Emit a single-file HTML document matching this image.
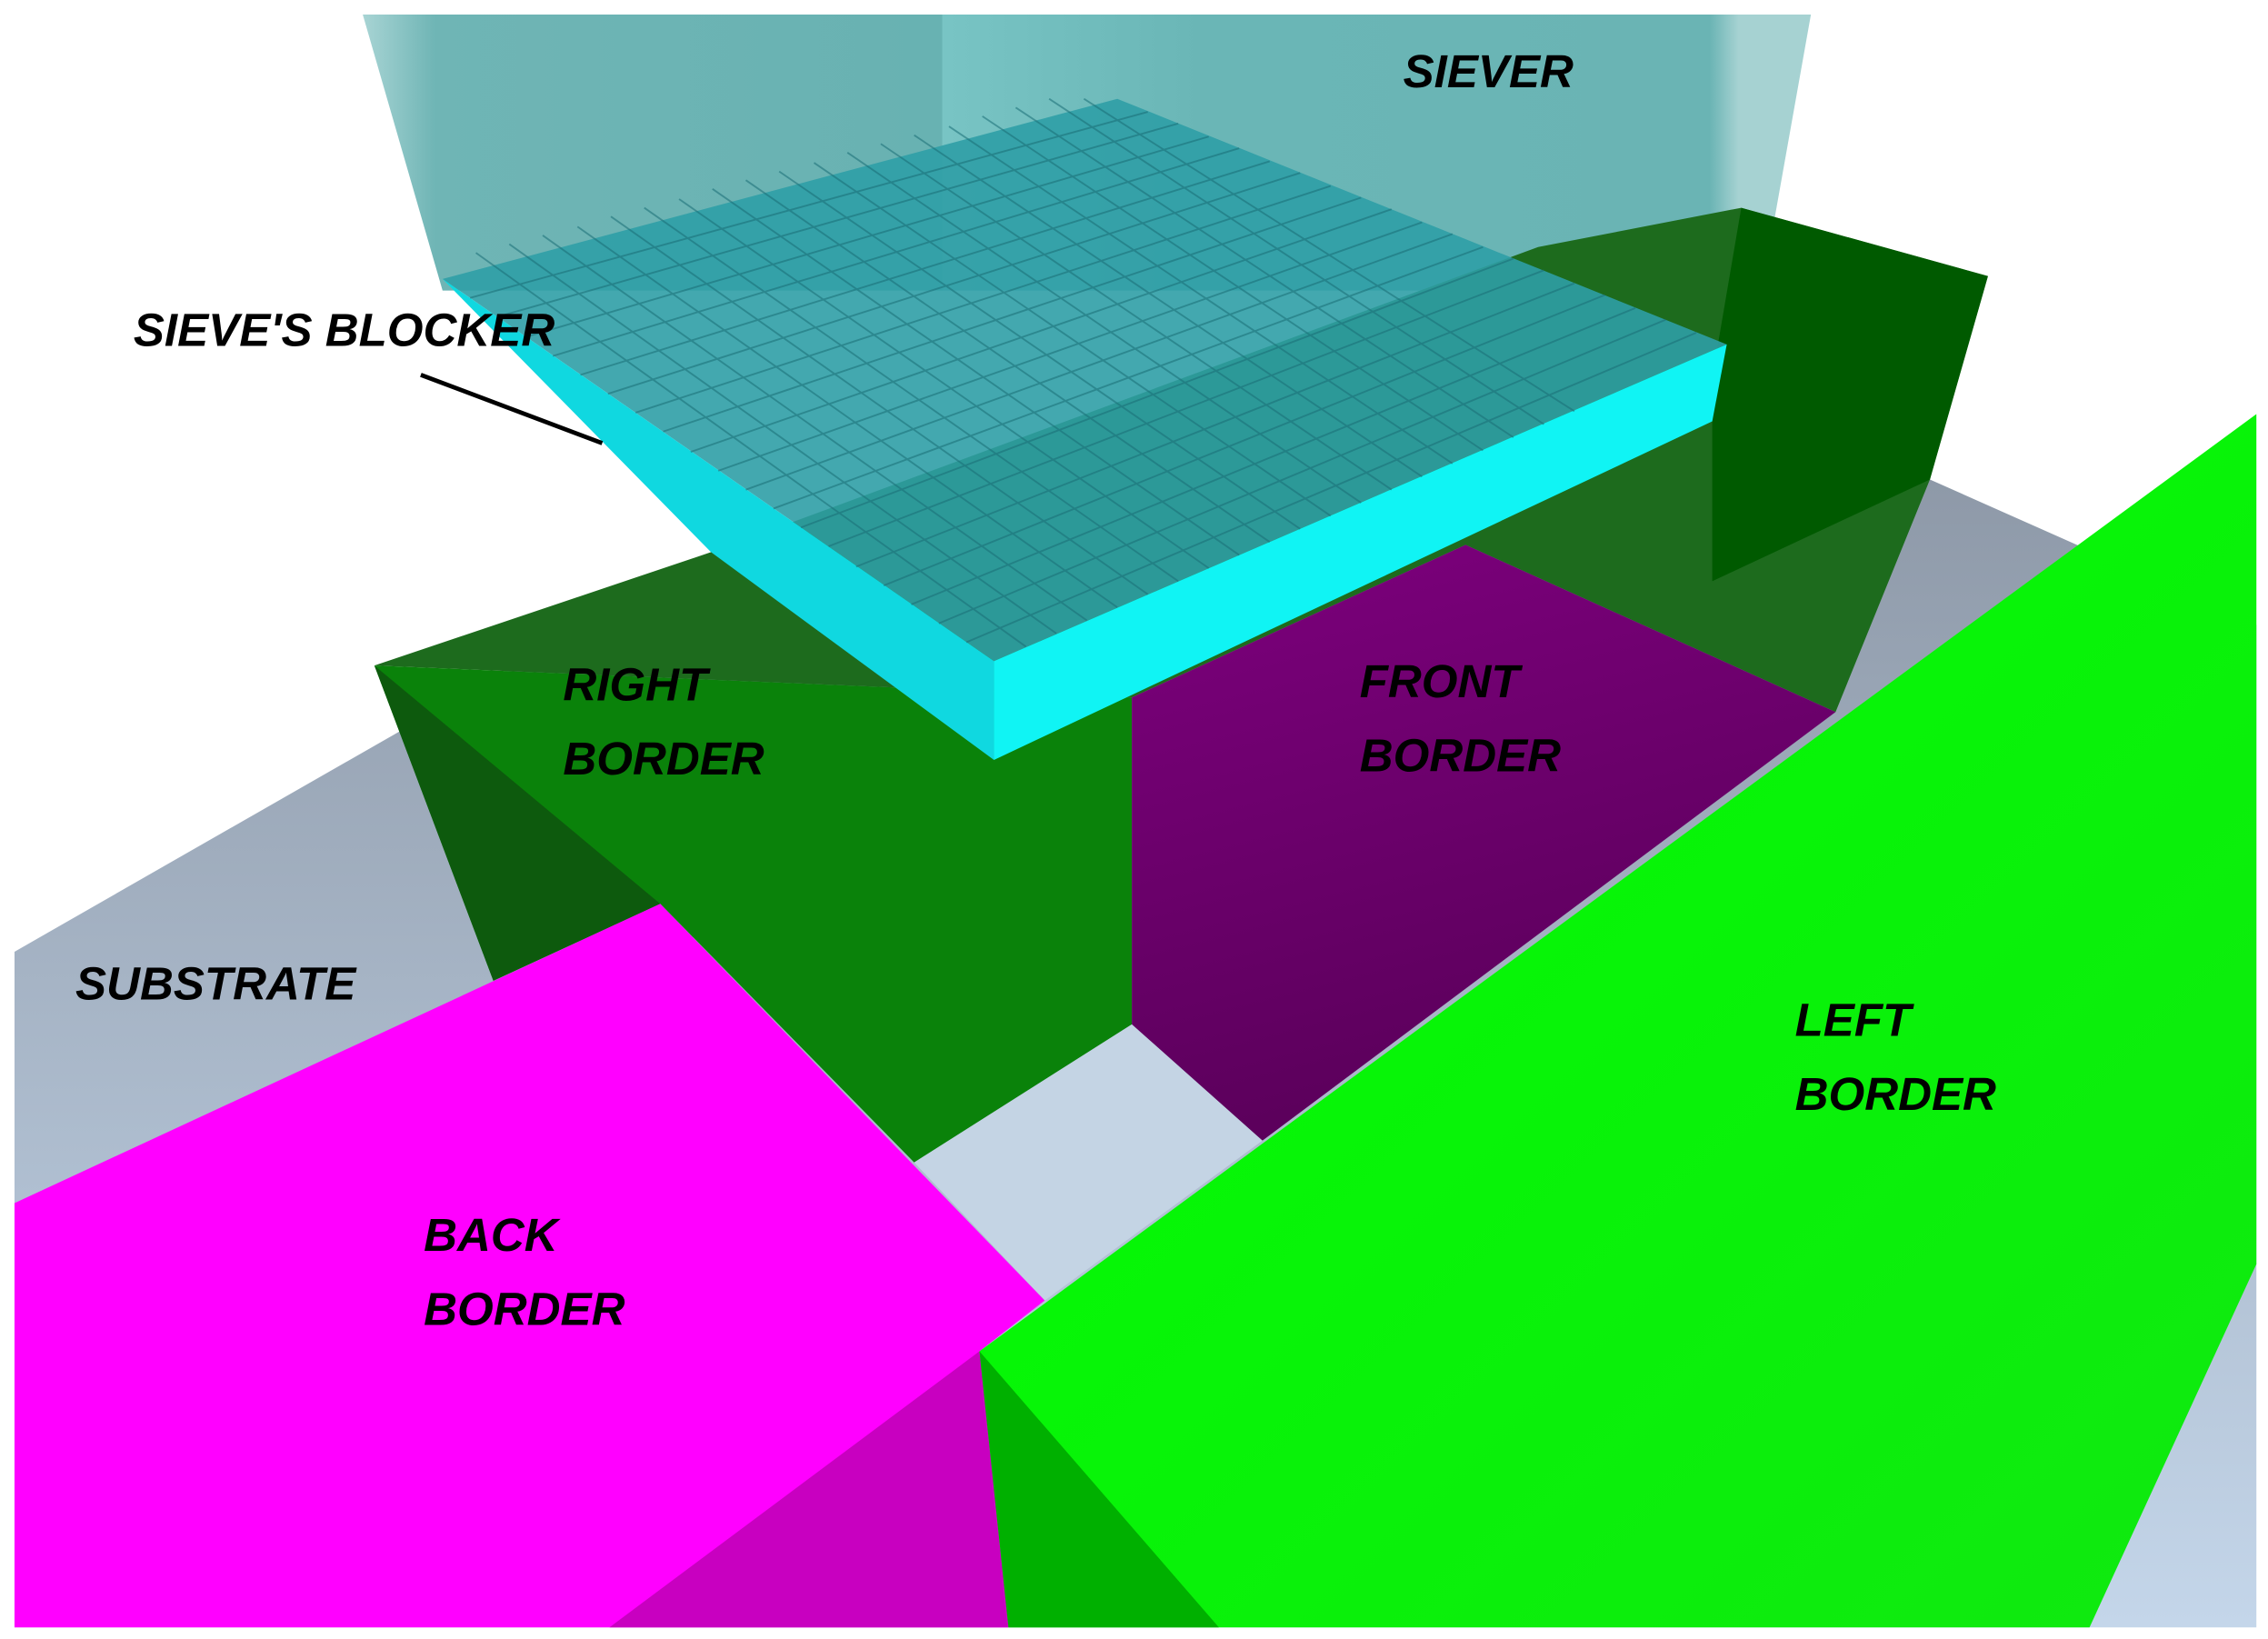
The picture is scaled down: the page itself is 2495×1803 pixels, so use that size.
<!DOCTYPE html>
<html><head><meta charset="utf-8"><style>
html,body{margin:0;padding:0;background:#fff;}
svg{display:block;}
text{font-family:"Liberation Sans",sans-serif;font-weight:bold;font-style:italic;font-size:32px;fill:#000;}
</style></head><body>
<svg width="2495" height="1803" viewBox="0 0 1563 1128" preserveAspectRatio="none" xmlns="http://www.w3.org/2000/svg">
<defs>
<linearGradient id="sub" x1="0" y1="0" x2="0" y2="1"><stop offset="0" stop-color="#8e99a8"/><stop offset="1" stop-color="#c4d6ea"/></linearGradient>
<linearGradient id="pur" x1="0" y1="0" x2="0.3" y2="1"><stop offset="0" stop-color="#7d007d"/><stop offset="1" stop-color="#5a005a"/></linearGradient>
<linearGradient id="sv" x1="0" y1="0" x2="1" y2="0"><stop offset="0" stop-color="#a8d4d4"/><stop offset="0.05" stop-color="#6fb5b5"/><stop offset="0.4" stop-color="#68b2b2"/><stop offset="0.4" stop-color="#78c4c4"/><stop offset="0.58" stop-color="#6ab6b6"/><stop offset="0.93" stop-color="#6ab4b4"/><stop offset="0.95" stop-color="#a6d2d2"/></linearGradient>
<linearGradient id="lime" x1="0" y1="0" x2="1" y2="1"><stop offset="0" stop-color="#00ff00"/><stop offset="1" stop-color="#10e810"/></linearGradient>
</defs>
<polygon points="10,655 500,375 1330,330 1555,430 1555,1120 10,1120" fill="url(#sub)"/>
<polygon points="250,10 1248,10 1215,195 1060,200 305,200" fill="url(#sv)"/>
<polygon points="258,458 490,380 1060,170 1200,143 1370,190 1330,330 1265,490 1010,375 780,480" fill="#1d6b1d"/>
<polygon points="1200,143 1370,190 1330,330 1180,400 1180,260" fill="#005a00"/>
<polygon points="258,458 780,480 780,705 630,800 455,622 340,675" fill="#0a820a"/>
<polygon points="258,458 455,622 340,675" fill="#0d5a0d"/>
<polygon points="780,480 1010,375 1265,490 870,785 780,705" fill="url(#pur)"/>
<polygon points="630,800 780,705 870,785 720,895" fill="#c4d4e4"/>
<polygon points="10,828 455,622 720,895 675,930 695,1120 10,1120" fill="#ff00ff"/>
<polygon points="420,1120 675,930 695,1120" fill="#c800c0"/>
<polygon points="675,930 1555,285 1555,870 1440,1120 695,1120" fill="url(#lime)"/>
<polygon points="675,930 840,1120 695,1120" fill="#00b000"/>
<!-- blocker -->
<polygon points="305,192 770,68 1190,237 685,455" fill="#2f9ea6" opacity="0.9"/>
<polygon points="305,192 685,455 685,523 490,380" fill="#10d8e0"/>
<polygon points="685,455 1190,237 1180,290 685,523" fill="#10f4f4"/>
<g stroke="#1a6e76" stroke-width="1.2" opacity="0.55" id="g">
<line x1="328" y1="174" x2="707" y2="445"/><line x1="351" y1="168" x2="728" y2="436"/><line x1="374" y1="162" x2="749" y2="427"/><line x1="398" y1="156" x2="770" y2="418"/><line x1="421" y1="149" x2="791" y2="409"/><line x1="444" y1="143" x2="812" y2="400"/><line x1="468" y1="137" x2="833" y2="391"/><line x1="491" y1="130" x2="854" y2="382"/><line x1="514" y1="124" x2="875" y2="373"/><line x1="537" y1="118" x2="896" y2="364"/><line x1="561" y1="112" x2="917" y2="355"/><line x1="584" y1="105" x2="938" y2="346"/><line x1="607" y1="99" x2="959" y2="337"/><line x1="630" y1="93" x2="980" y2="328"/><line x1="654" y1="87" x2="1001" y2="319"/><line x1="677" y1="80" x2="1022" y2="310"/><line x1="700" y1="74" x2="1043" y2="301"/><line x1="723" y1="68" x2="1064" y2="292"/><line x1="747" y1="68" x2="1085" y2="283"/>
<line x1="324" y1="205" x2="791" y2="77"/><line x1="343" y1="218" x2="812" y2="85"/><line x1="362" y1="232" x2="833" y2="94"/><line x1="381" y1="245" x2="854" y2="102"/><line x1="400" y1="258" x2="875" y2="111"/><line x1="419" y1="271" x2="896" y2="119"/><line x1="438" y1="284" x2="917" y2="128"/><line x1="457" y1="297" x2="938" y2="136"/><line x1="476" y1="311" x2="959" y2="144"/><line x1="495" y1="324" x2="980" y2="153"/><line x1="514" y1="337" x2="1001" y2="161"/><line x1="533" y1="350" x2="1022" y2="170"/><line x1="552" y1="363" x2="1043" y2="178"/><line x1="571" y1="376" x2="1064" y2="186"/><line x1="590" y1="390" x2="1085" y2="195"/><line x1="609" y1="403" x2="1106" y2="203"/><line x1="628" y1="416" x2="1127" y2="212"/><line x1="647" y1="429" x2="1148" y2="220"/><line x1="666" y1="442" x2="1169" y2="229"/>
</g>
<line x1="290" y1="258" x2="415" y2="305" stroke="#000" stroke-width="3"/>
<text x="967" y="60">SIEVER</text>
<text x="92" y="238">SIEVE'S BLOCKER</text>
<text x="388" y="482">RIGHT</text>
<text x="388" y="533">BORDER</text>
<text x="937" y="480">FRONT</text>
<text x="937" y="531">BORDER</text>
<text x="52" y="688">SUBSTRATE</text>
<text x="1237" y="713">LEFT</text>
<text x="1237" y="764">BORDER</text>
<text x="292" y="861">BACK</text>
<text x="292" y="912">BORDER</text>
</svg>
</body></html>
